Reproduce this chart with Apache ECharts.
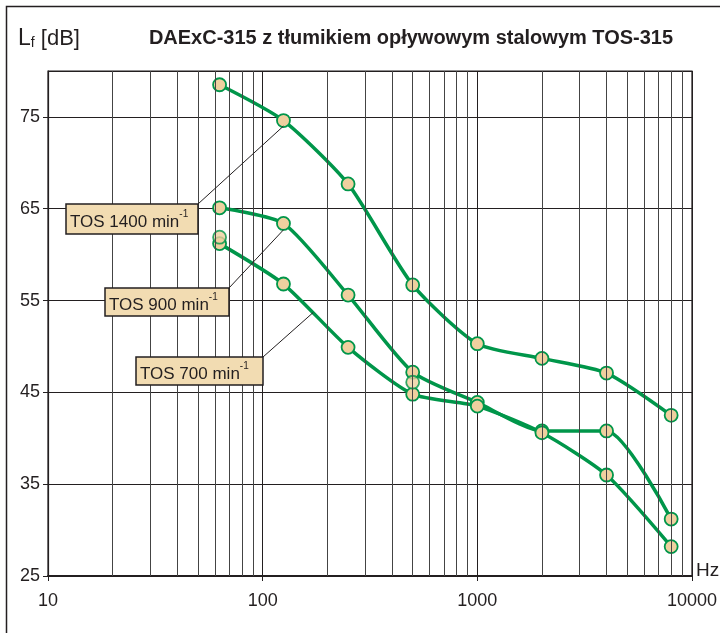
<!DOCTYPE html>
<html>
<head>
<meta charset="utf-8">
<script src="https://cdn.jsdelivr.net/npm/echarts@6/dist/echarts.min.js"></script>
<style>
  html, body { margin: 0; padding: 0; background: #fff; }
  #chart { width: 720px; height: 633px; }
</style>
</head>
<body>
<div id="chart"></div>
<script>
// frequencies [Hz] and levels [dB]
const freqs = [63, 125, 250, 500, 1000, 2000, 4000, 8000];
const tos1400 = [78.5, 74.6, 67.7, 56.7, 50.3, 48.7, 47.1, 42.5];
const tos900 = [65.1, 63.4, 55.6, 47.2, 43.9, 40.8, 40.8, 31.2];
const tos700 = [61.2, 56.8, 49.9, 44.8, 43.5, 40.6, 36.0, 28.2];
// stray markers drawn on top of each other in the original
const extraPts = [[63, 61.9], [500, 46.1]];

const xTickLabels = [10, 100, 1000, 10000];
const minorGrid = [20, 30, 40, 50, 60, 70, 80, 90,
  200, 300, 400, 500, 600, 700, 800, 900,
  2000, 3000, 4000, 5000, 6000, 7000, 8000, 9000];

const green = '#00964A';
const dot = '#EFD09F';
const ink = '#231F20';
const font = 'Arial, "Liberation Sans", sans-serif';

function pairs(ys) {
  return freqs.map((f, i) => [f, ys[i]]);
}

function curve(name, ys) {
  return {
    name: name,
    type: 'line',
    data: pairs(ys),
    smooth: 0.22,
    symbol: 'circle',
    symbolSize: 13,
    lineStyle: { color: green, width: 3.5 },
    itemStyle: { color: dot, borderColor: green, borderWidth: 1.8 },
    z: 3
  };
}

let chart = echarts.init(document.getElementById('chart'), null, { renderer: 'canvas' });

let option = {
  animation: false,
  backgroundColor: '#fff',
  grid: {
    left: 48, right: 28, top: 71, bottom: 57,
    show: true, borderColor: ink, borderWidth: 1.2
  },
  xAxis: {
    type: 'log',
    logBase: 10,
    min: 10,
    max: 10000,
    axisLine: { lineStyle: { color: ink, width: 2 } },
    axisTick: { show: true, length: 5, lineStyle: { color: ink } },
    axisLabel: {
      color: ink, fontSize: 18, fontFamily: font, margin: 16,
      formatter: v => xTickLabels.includes(Math.round(v)) ? String(Math.round(v)) : ''
    },
    splitLine: { show: true, lineStyle: { color: ink, width: 1 } }
  },
  yAxis: {
    type: 'value',
    min: 25,
    max: 80,
    interval: 10,
    axisLine: { show: true, lineStyle: { color: ink, width: 1.2 } },
    axisTick: { show: true, length: 5, lineStyle: { color: ink } },
    axisLabel: {
      color: ink, fontSize: 18, fontFamily: font, margin: 8,
      showMaxLabel: false,
      formatter: v => v === 80 ? '' : String(v)
    },
    splitLine: { show: true, lineStyle: { color: ink, width: 1 } }
  },
  series: [
    {
      name: 'minor',
      type: 'line',
      data: [],
      silent: true,
      markLine: {
        symbol: 'none',
        silent: true,
        label: { show: false },
        lineStyle: { color: '#444', width: 1, type: 'solid' },
        data: minorGrid.map(f => ({ xAxis: f }))
      },
      z: 1
    },
    curve('TOS 1400', tos1400),
    curve('TOS 900', tos900),
    curve('TOS 700', tos700),
    {
      name: 'extra',
      type: 'scatter',
      data: extraPts,
      symbol: 'circle',
      symbolSize: 13,
      itemStyle: { color: dot, borderColor: green, borderWidth: 1.8 },
      z: 4
    }
  ]
};

chart.setOption(option);

// labels with leader lines
const boxes = [
  { text: 'TOS 1400 min', x: 66, y: 204, w: 132, h: 30, anchor: [125, 74.0] },
  { text: 'TOS 900 min', x: 105, y: 288, w: 124, h: 28, anchor: [125, 62.7] },
  { text: 'TOS 700 min', x: 136, y: 357, w: 127, h: 28, anchor: [172, 53.7] }
];

let gfx = [
  {
    type: 'rect', shape: { x: 6.5, y: 6.5, width: 800, height: 800 },
    style: { fill: 'none', stroke: ink, lineWidth: 1.5 }, silent: true
  },
  {
    type: 'text', x: 18, y: 24,
    style: {
      text: '{l|L}{f|f}{d| [dB]}',
      rich: {
        l: { fontSize: 23, fontFamily: font, fill: ink, verticalAlign: 'bottom', lineHeight: 26 },
        f: { fontSize: 14, fontFamily: font, fill: ink, verticalAlign: 'bottom', lineHeight: 22 },
        d: { fontSize: 22, fontFamily: font, fill: ink, verticalAlign: 'bottom', lineHeight: 26 }
      }
    }
  },
  {
    type: 'text', x: 411, y: 38,
    style: {
      text: 'DAExC-315 z tłumikiem opływowym stalowym TOS-315',
      fontSize: 20, fontWeight: 'bold', fontFamily: font, fill: ink,
      align: 'center', verticalAlign: 'middle'
    }
  },
  {
    type: 'text', x: 696, y: 571,
    style: { text: 'Hz', fontSize: 19, fontFamily: font, fill: ink, verticalAlign: 'middle' }
  }
];

boxes.forEach(b => {
  const p = chart.convertToPixel({ gridIndex: 0 }, b.anchor);
  gfx.push({
    type: 'line',
    shape: { x1: b.x + b.w, y1: b.y, x2: p[0], y2: p[1] },
    style: { stroke: ink, lineWidth: 1 },
    z: 5
  });
  gfx.push({
    type: 'rect',
    shape: { x: b.x, y: b.y, width: b.w, height: b.h },
    style: { fill: '#F2DCB2', stroke: ink, lineWidth: 1.5 },
    z: 6
  });
  gfx.push({
    type: 'text',
    x: b.x + 4, y: b.y + b.h / 2 + 1,
    style: {
      text: '{a|' + b.text + '}{s|-1}',
      verticalAlign: 'middle',
      rich: {
        a: { fontSize: 17, fontFamily: font, fill: ink, lineHeight: 22, verticalAlign: 'bottom' },
        s: { fontSize: 10, fontFamily: font, fill: ink, lineHeight: 22, verticalAlign: 'top' }
      }
    },
    z: 7
  });
});

chart.setOption({ graphic: gfx });
</script>
</body>
</html>
